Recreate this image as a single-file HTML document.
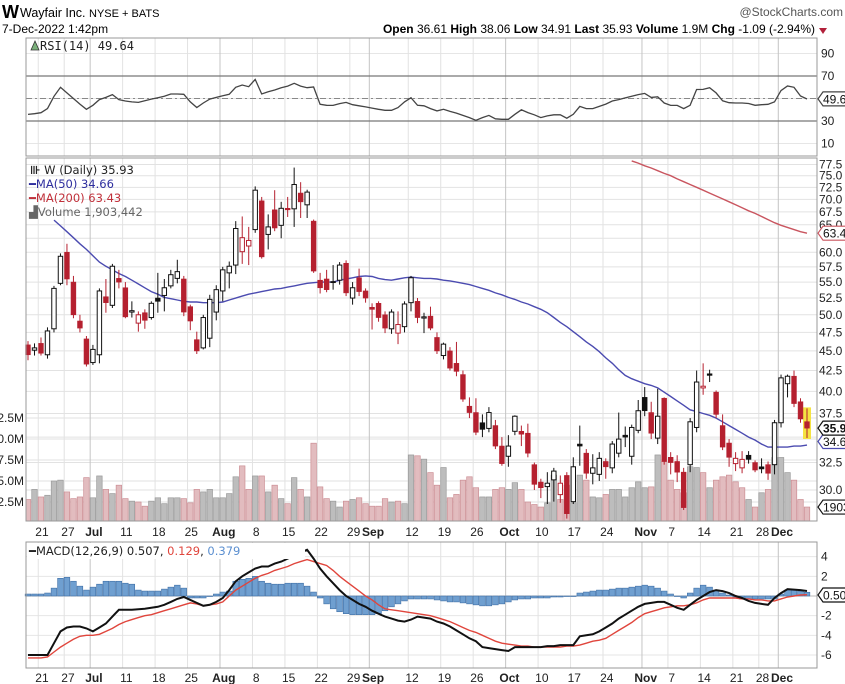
<!DOCTYPE html>
<html><head><meta charset="utf-8">
<style>
html,body{margin:0;padding:0;background:#fff;}
svg{display:block;font-family:"Liberation Sans",Arial,sans-serif;}
.lg{font-family:"DejaVu Sans","Liberation Sans",sans-serif;font-size:11px;}
</style></head>
<body>
<svg id="chart" width="845" height="684" viewBox="0 0 845 684" xmlns="http://www.w3.org/2000/svg">
  <rect x="0" y="0" width="845" height="684" fill="#fff"/>
  <g>
    <text x="2" y="18" font-size="18" font-weight="bold">W</text>
    <text x="20" y="17" font-size="12.5">Wayfair Inc. <tspan font-size="11">NYSE + BATS</tspan></text>
    <text x="843" y="16" font-size="12" fill="#555" text-anchor="end">@StockCharts.com</text>
    <text x="2" y="33" font-size="12">7-Dec-2022 1:42pm</text>
    <text x="815" y="33" font-size="12" text-anchor="end"><tspan font-weight="bold">Open</tspan> 36.61 <tspan font-weight="bold">High</tspan> 38.06 <tspan font-weight="bold">Low</tspan> 34.91 <tspan font-weight="bold">Last</tspan> 35.93 <tspan font-weight="bold">Volume</tspan> 1.9M <tspan font-weight="bold">Chg</tspan> -1.09 (-2.94%)</text>
    <path d="M819 28 L827 28 L823 34 Z" fill="#b2203a"/>
  </g>
  <g id="grid"></g>
  <g id="rsi"></g>
  <g id="main"></g>
  <g id="macd"></g>
  <g id="axes"></g>
</svg>
<script>
// ---------------- DATA ----------------
const weekLabels = ["21","27","Jul","11","18","25","Aug","8","15","22","29","Sep","12","19","26","Oct","10","17","24","Nov","7","14","21","28","Dec"];
const weekLabelIdx = [2,6,10,15,20,25,30,35,40,45,50,53,59,64,69,74,79,84,89,95,99,104,109,113,116];
const priceTicks = [30.0,32.5,37.5,40.0,42.5,45.0,47.5,50.0,52.5,55.0,57.5,60.0,65.0,67.5,70.0,72.5,75.0,77.5];
const priceGrid = [30,32.5,35,37.5,40,42.5,45,47.5,50,52.5,55,57.5,60,62.5,65,67.5,70,72.5,75,77.5];
const volTicks = [2.5,5.0,7.5,10.0,12.5];
const rsiTicks = [10,30,70,90];
const macdTicks = [-6,-4,-2,2,4];

const opens = [45.8,45.1,46,44.5,48,54.8,60,55,49.1,46.6, 43.5,44.5,52.7,51.4,55.6,54.1,50.4,48.8,50.3,49.6, 52.5,52.9,54.4,55.6,55.5,51.2,46.5,45.4,46.7,50.4, 53.6,56.5,57.8,60.1,61.1,64.1,69.7,63.2,67.9,64.9, 68.2,68.1,71.3,68.9,65.7,55.3,55.5,55.1,55.3,58.1, 52.5,55.7,53.6,51.1,51.7,50,48,47.4,48.3,51.8, 52,49.7,49.8,46.8,44.4,45,43.4,42,38.3,37.6, 36.5,35.9,36.2,34.1,33.1,35.6,35.6,35.4,32.3,30.7, 30.3,30.9,29.6,31.3,29,34.3,33.4,31.5,31.4,32.6, 32,33.4,35.2,33.1,35.7,39.3,37.6,34.9,39.2,33, 32.6,31.6,32.3,36,40.4,42.1,39.9,36.2,34.4,32.4, 32,33.2,32.5,32.1,32.3,32.3,36.5,40.9,41.8,38.8,36.61];
const highs = [46.3,46,46.8,48.2,54.4,59.8,61.5,56,50,47, 45.8,54,55.5,58,57,55,52,50.5,50.8,52, 56.5,55.5,57,58.7,56,51.5,47.6,50,53,54.5, 57.5,58.4,65.7,66.6,64.6,72.7,70.5,67,71.9,69.5, 70.5,76.8,73.6,72,66,56.5,57,57.8,58.3,58.6, 55,57.2,54,51.7,52,50.5,50.8,50.5,52,56, 52.5,50.3,51.2,47.5,46.1,45.5,46.2,42.5,39.3,39.2, 37.4,38.2,36.8,35,35.2,37.3,36.2,36.4,32.5,31, 31.6,32,31.3,31.6,33,36.2,33.8,33.3,33.5,32.9, 34.6,37.6,36.1,36.3,39,40.5,38.8,40.3,39.3,33.5, 33.2,32,37,42.5,43.4,42.6,40.1,37.4,34.8,33.5, 33.6,33.6,32.7,32.9,32.6,36.8,42,42,42.5,39.2,38.06];
const lows = [43.8,44.4,44.4,44,47.5,54.5,54.5,49.5,47.5,43, 43.2,43.4,50.3,51,54,49.5,49.6,47.6,48,49.3, 50.3,50.5,54,54.8,49.8,47.8,44.6,45.2,45.5,49.2, 52,54,56.3,58,57.8,63.5,58.9,60.5,63.8,62.5, 66.5,64.6,66.3,66.3,56.5,53.2,53.4,53.8,54.6,52.8, 51.5,52.8,51.8,47.9,49,47.4,47.3,45.9,47.5,50.5, 48.8,47.4,47.8,44.6,43.9,42.5,41.8,38.8,37,35.2, 35,35.5,33.8,32.2,32.1,35.2,34.1,33,30,29.3, 28.8,29,28.9,27.6,28.8,32.2,31,30.5,30.8,31, 31.5,33,34,32.3,35.4,37.2,34.8,34.3,32.3,31.4, 30.7,28.3,31.6,35.5,39.6,41.1,37,33.7,32.1,31.7, 31.5,32.4,31.6,31.5,30.9,31.4,36,39.3,38.2,36.5,34.91];
const closes = [44.5,45.4,44.7,47.7,54,59.3,55.5,50,48.1,43.3, 45.2,53.6,51.8,57.6,55,49.7,50.6,50,49.2,51.7, 52,54.1,56.2,56.7,50.4,49.1,45,49.6,52.3,53.8, 57,57.6,64.3,62.6,62.1,71.9,59.2,64.6,64.4,68.2, 67.9,73.1,69.5,71.5,56.8,54.1,53.8,54.9,57.8,53.3, 54.1,53.5,52.5,50.8,49.6,48.1,50.4,48.6,51.6,55.7, 49.6,49.7,48.1,45,45.9,42.8,42.4,39.1,37.6,35.5, 35.8,37.6,34.1,32.4,34.1,37.2,35.3,33.4,30.5,30.2, 30.6,31.7,30.6,28,32.1,34.1,31.5,32,32.9,32.1, 34.3,34.8,35,36,37.8,37.8,35.4,37.2,32.6,32.5, 31.6,28.5,36.6,41.1,40.6,41.9,37.4,34,33,32.9, 32.8,32.8,31.8,31.9,31.5,36.5,41.6,41.8,38.6,36.9,35.93];
const volumesM = [2.8,4,3.1,3.3,5,5.1,3.7,2.9,3.1,5.4, 3,5.6,4,3.5,4.5,2.9,2.6,2.5,2,2.6, 3,2.3,3,3,2.9,2.4,4,3.7,4,3, 3,3.5,5.5,6.8,4,5.6,5.6,3.7,4.5,2.9, 2.3,5.4,4,3.1,9.5,4.3,2.9,2.6,1.9,2.6, 2.8,3.0, 2.3,2,2,2.9,2.5,2.6,2.3,8.1,8,7.6, 6,4.5,6.6,3,3.4,5.1,5.5,4.2,3.1,3.1, 4,4.2,4,4.8,4,2.5,2.2,1.9,2.4,5.7, 2.8,4.5,2.4,5.7,5.1,3.1,3,3.4,4,4, 3.1,4.2,4.9,4.2,4.3,8.1,7.3,5.1,4,3.6, 6.7,6.6,6,4.2,5.1,5.5,5.7,4.9,4.2,2.8, 1.9,3.6,4,7.8,7.8,6,5.1,2.8,1.9];
const ma50Start = 4;
const ma50 = [65.9,64.8,63.7,62.6,61.5,60.5,59.4,58.3,57.6,57,56.4,55.9,55.3,54.7,54.1,53.5,53.1,52.6,52.4,52.2,52,51.9,51.9,51.8,51.8,51.8,51.9,52.2,52.5,52.8,53.1,53.3,53.5,53.7,53.9,54,54.2,54.4,54.6,54.8,54.9,55,55,55,55.3,55.5,55.7,55.9,56,55.9,55.6,55.4,55.3,55.5,55.7,55.8,55.7,55.6,55.6,55.5,55.3,55.2,55,54.8,54.6,54.3,54,53.7,53.3,53,52.6,52.3,51.9,51.6,51.2,50.8,50.3,49.6,48.9,48.3,47.6,46.9,46.2,45.6,44.9,44.1,43.4,42.6,41.9,41.5,41.2,40.9,40.7,40.4,39.9,39.4,38.9,38.4,37.9,37.7,37.5,37.3,37,36.6,36.2,35.8,35.4,35,34.7,34.3,34,34,34,34,34.1,34.1,34.2];
const ma200Start = 93;
const ma200 = [78.3,77.8,77.2,76.7,76.1,75.5,75,74.3,73.7,73.1,72.5,71.9,71.3,70.7,70.1,69.5,68.9,68.3,67.7,67.2,66.6,66,65.4,64.9,64.5,64.1,63.7,63.43];
const rsiVals = [35.9,36.5,37.4,41,52,60,55,50,45,40.4, 44,49,51,53.5,49,47.8,47,46.5,48,49.5, 50.7,52,54,54,53.7,47,42,46,49.5,51, 52.5,53.7,60,62,60.5,67,54,56,57.6,59.6, 61,63.5,61,59.6,60.2,44.8,44,43.9,45.5,46.5, 44.5,43.5,42.5,41.5,40.4,39.5,39.5,41.9,47,50.7, 44,43.5,41,39,40.4,38.5,37,35,33,30.6, 33,35,32,31.5,31.5,36,40,37.5,35.5,33, 34.5,35.5,35.5,32.5,36,43,41,41,43,45, 47.8,49,50.5,52,53.5,54.5,51,51.5,46,43.9, 43.9,41,44,58,58.1,59.6,55,48,46.3,46, 46,45.6,44,44.5,44.8,47,57,61.1,60,52.2,49.6];
const macdVals = [-6.0,-6.0,-6.0,-6.0,-4.8,-3.6,-3.2,-3.1,-3.1,-3.3, -3.6,-3.2,-2.8,-2.1,-1.4,-1.4,-1.4,-1.35,-1.3,-1.2, -1.1,-0.9,-0.6,-0.3,-0.1,-0.4,-0.7,-1.0,-0.9,-0.6, -0.2,0.6,1.5,2.0,2.4,2.8,3.0,3.0,3.3,3.5, 3.8,4.1,4.4,4.7,3.8,2.8,2.0,1.3,0.6,0.0, -0.4,-0.8,-1.1,-1.5,-1.8,-2.1,-2.3,-2.5,-2.6,-2.4, -2.1,-2.2,-2.3,-2.6,-2.8,-3.1,-3.5,-3.9,-4.3,-4.6, -5.2,-5.3,-5.4,-5.5,-5.6,-5.2,-5.2,-5.2,-5.2,-5.2, -5.1,-5.1,-5.0,-5.0,-5.0,-4.1,-4.0,-3.9,-3.6,-3.2, -2.8,-2.3,-1.9,-1.5,-1.1,-0.8,-0.7,-0.6,-0.6,-0.9, -1.2,-1.4,-0.9,-0.4,0.0,0.4,0.6,0.5,0.3,0.0, -0.2,-0.5,-0.7,-0.8,-0.9,-0.2,0.3,0.7,0.65,0.6,0.507];
const signalVals = [-6.3,-6.3,-6.3,-6.2,-5.7,-5.2,-4.8,-4.4,-4.1,-4.0, -4.0,-3.9,-3.6,-3.3,-2.9,-2.6,-2.4,-2.2,-2.0,-1.9, -1.7,-1.5,-1.3,-1.1,-0.9,-0.7,-0.8,-1.0,-0.9,-0.8, -0.6,0.0,0.6,1.0,1.4,1.8,2.1,2.3,2.6,2.8, 3.0,3.3,3.5,3.7,3.5,3.3,3.1,2.6,2.0,1.5, 1.0,0.5,0.0,-0.4,-0.9,-1.3,-1.4,-1.5,-1.6,-1.7, -1.8,-1.9,-2.0,-2.2,-2.4,-2.6,-2.9,-3.2,-3.5,-3.7, -4.0,-4.3,-4.6,-4.8,-4.9,-5.0,-5.1,-5.1,-5.2,-5.2, -5.2,-5.2,-5.2,-5.1,-5.1,-5.0,-4.8,-4.6,-4.5,-4.3, -3.9,-3.5,-3.1,-2.7,-2.2,-1.8,-1.6,-1.4,-1.2,-1.1, -1.0,-1.0,-0.9,-0.7,-0.4,-0.2,-0.2,-0.2,-0.2,-0.2, -0.3,-0.3,-0.4,-0.4,-0.5,-0.5,-0.3,-0.1,0.0,0.1,0.129];
const histVals = [0.2,0.2,0.2,0.3,0.8,1.8,1.9,1.5,1.0,0.6, 0.9,1.2,1.5,1.5,1.5,1.3,1.2,0.6,0.5,0.5, 0.5,0.7,0.9,1.1,0.8,-0.2,-0.2,-0.2,0.0,0.2, 0.4,0.5,1.5,1.7,1.8,2.0,1.5,1.3,1.2,1.2, 1.3,1.3,1.3,1.0,0.4,-0.2,-0.8,-1.3,-1.6,-1.8, -1.9,-1.9,-1.9,-1.9,-1.8,-1.5,-1.1,-0.8,-0.5,-0.3, -0.3,-0.3,-0.3,-0.4,-0.5,-0.6,-0.6,-0.7,-0.8,-0.9, -1.0,-1.0,-0.9,-0.8,-0.6,-0.4,-0.3,-0.3,-0.2,-0.2, -0.2,-0.1,-0.1,0.0,0.0,0.3,0.4,0.5,0.6,0.6, 0.7,0.8,0.8,0.9,1.0,1.1,1.0,0.8,0.5,0.2, 0.0,-0.2,0.3,0.8,1.1,0.9,0.6,0.3,0.1,-0.1, -0.3,-0.3,-0.3,-0.3,-0.3,-0.3,0.2,0.6,0.6,0.5,0.379];

// ---------------- SCALES ----------------
const L = 26, R = 817;
const N = closes.length;
const X0 = 28, DX = (807 - 28) / (N - 1);
function xs(i){ return X0 + i*DX; }
function py(p){ return 490 - (Math.log(p) - Math.log(30)) * 343; }
function vy(v){ return 523 - v * 8.4; }
function ry(v){ return 121 - (v - 30) * 1.125; }
function my(v){ return 596 - v * 9.83; }
const RSI_T = 38, RSI_B = 156, MAIN_T = 158, MAIN_B = 521, MACD_T = 542, MACD_B = 668;

const NS = "http://www.w3.org/2000/svg";
function mk(parent, tag, attrs){
  const e = document.createElementNS(NS, tag);
  for (const k in attrs) e.setAttribute(k, attrs[k]);
  parent.appendChild(e);
  return e;
}
const grid = document.getElementById('grid');
const rsiG = document.getElementById('rsi');
const mainG = document.getElementById('main');
const macdG = document.getElementById('macd');
const axes = document.getElementById('axes');

const defs = mk(document.getElementById('chart'), 'defs', {});
[['clipMain',MAIN_T,MAIN_B],['clipMacd',MACD_T,MACD_B],['clipRsi',RSI_T,RSI_B]].forEach(c=>{
  const cp = mk(defs,'clipPath',{id:c[0]});
  mk(cp,'rect',{x:L,y:c[1],width:R-L,height:c[2]-c[1]});
});

// ---------------- GRID ----------------
priceGrid.forEach(p=>{
  const l = mk(grid,'line',{x1:L,x2:R,y1:py(p),y2:py(p),stroke:'#e2e2e2','stroke-width':1});
  
  
});
volTicks.forEach(v=>{
  const l = mk(grid,'line',{x1:L,x2:R,y1:vy(v),y2:vy(v),stroke:'#e2e2e2','stroke-width':1});
  
  
});
[10,30,50,70,90].forEach(v=>{
  const l = mk(grid,'line',{x1:L,x2:R,y1:ry(v),y2:ry(v),stroke:'#e6e6e6','stroke-width':1});
  
  
});
[-6,-4,-2,0,2,4].forEach(v=>{
  const l = mk(grid,'line',{x1:L,x2:R,y1:my(v),y2:my(v),stroke:'#e6e6e6','stroke-width':1});
  
  
});
weekLabelIdx.forEach((idx,k)=>{
  const isMonth = /[A-Za-z]/.test(weekLabels[k]);
  const x = xs(idx) - DX/2 + 0.5;
  [[RSI_T,RSI_B],[MAIN_T,MAIN_B],[MACD_T,MACD_B]].forEach(r=>{
    const l = mk(grid,'line',{x1:x,x2:x,y1:r[0],y2:r[1],stroke:isMonth?'#c4c4c4':'#e2e2e2','stroke-width':1});
    
    
  });
});

// ---------------- RSI ----------------
[70,30].forEach(v=>{
  const l = mk(rsiG,'line',{x1:L,x2:R,y1:ry(v),y2:ry(v),stroke:'#777','stroke-width':1.2});
  
  
});
const mid = mk(rsiG,'line',{x1:L,x2:R,y1:ry(50),y2:ry(50),stroke:'#888','stroke-width':1,'stroke-dasharray':'6,3,2,3'});


const rsiPath = mk(rsiG,'path',{d:rsiVals.map((v,i)=>(i?'L':'M')+xs(i).toFixed(1)+' '+ry(v).toFixed(1)).join(''),fill:'none',stroke:'#444','stroke-width':1.3,'clip-path':'url(#clipRsi)'});



// ---------------- VOLUME ----------------
volumesM.forEach((v,i)=>{
  const down = i>0 ? closes[i] < closes[i-1] : true;
  const w = DX - 1;
  const r = mk(mainG,'rect',{x:xs(i)-w/2,y:vy(v),width:w,height:MAIN_B-vy(v),fill:down?'#e2bcbf':'#bdbdbd',stroke:down?'#cc8e94':'#9a9a9a','stroke-width':0.7,'clip-path':'url(#clipMain)'});
  
  
});

// ---------------- MOVING AVERAGES ----------------
const ma50p = mk(mainG,'path',{d:ma50.map((v,k)=>(k?'L':'M')+xs(k+ma50Start).toFixed(1)+' '+py(v).toFixed(1)).join(''),fill:'none',stroke:'#4b4bb0','stroke-width':1.4,'clip-path':'url(#clipMain)'});


const ma200p = mk(mainG,'path',{d:ma200.map((v,k)=>(k?'L':'M')+xs(k+ma200Start).toFixed(1)+' '+py(v).toFixed(1)).join(''),fill:'none',stroke:'#c9555f','stroke-width':1.4,'clip-path':'url(#clipMain)'});



// ---------------- CANDLES ----------------
const hl = mk(mainG,'rect',{x:xs(N-1)-4,y:py(highs[N-1])-1,width:8,height:py(lows[N-1])-py(highs[N-1])+2,fill:'#f5e342'});


opens.forEach((o,i)=>{
  const c = closes[i];
  const red = i>0 ? c < closes[i-1] : true;
  const col = red ? '#b5202f' : '#111';
  const x = xs(i);
  const g = mk(mainG,'g',{});
  
  
  mk(g,'line',{x1:x,x2:x,y1:py(highs[i]),y2:py(lows[i]),stroke:col,'stroke-width':1});
  const top = py(Math.max(o,c)), bot = py(Math.min(o,c));
  const h = Math.max(bot-top,1.2);
  if (c >= o) {
    mk(g,'rect',{x:x-2.2,y:top,width:4.4,height:h,fill:'#fff',stroke:col,'stroke-width':1});
  } else {
    mk(g,'rect',{x:x-2.4,y:top,width:4.8,height:h,fill:col,stroke:col,'stroke-width':0.6});
  }
});

// ---------------- MACD ----------------
const z = mk(macdG,'line',{x1:L,x2:R,y1:my(0),y2:my(0),stroke:'#bbb','stroke-width':1});


histVals.forEach((h,i)=>{
  const y0 = my(0), y1 = my(h);
  const w = DX - 0.8;
  const r = mk(macdG,'rect',{x:xs(i)-w/2,y:Math.min(y0,y1),width:w,height:Math.max(Math.abs(y1-y0),0.5),fill:'#6f9fd0',stroke:'#3f6fa6','stroke-width':0.6});
  
  
});
const sigp = mk(macdG,'path',{d:signalVals.map((v,i)=>(i?'L':'M')+xs(i).toFixed(1)+' '+my(v).toFixed(1)).join(''),fill:'none',stroke:'#e0453c','stroke-width':1.4,'clip-path':'url(#clipMacd)'});


const macdp = mk(macdG,'path',{d:macdVals.map((v,i)=>(i?'L':'M')+xs(i).toFixed(1)+' '+my(v).toFixed(1)).join(''),fill:'none',stroke:'#111','stroke-width':2,'clip-path':'url(#clipMacd)'});



// ---------------- AXES / FRAMES / LABELS ----------------
[[RSI_T,RSI_B,'rsi-panel-frame'],[MAIN_T,MAIN_B,'price-panel-frame'],[MACD_T,MACD_B,'macd-panel-frame']].forEach(p=>{
  const r = mk(axes,'rect',{x:L,y:p[0],width:R-L,height:p[1]-p[0],fill:'none',stroke:'#999','stroke-width':1});
  
  
});
priceTicks.forEach(p=>{
  const t = mk(axes,'text',{x:R+2,y:py(p)+4,'font-size':12,fill:'#222'});
  t.textContent = p.toFixed(1);
  
  
});
volTicks.forEach(v=>{
  const t = mk(axes,'text',{x:L-2,y:vy(v)+4,'font-size':12,fill:'#222','text-anchor':'end'});
  t.textContent = v.toFixed(1)+'M';
  
  
});
rsiTicks.forEach(v=>{
  const t = mk(axes,'text',{x:R+4,y:ry(v)+4,'font-size':12,fill:'#222'});
  t.textContent = v;
  
  
});
macdTicks.forEach(v=>{
  const t = mk(axes,'text',{x:R+4,y:my(v)+4,'font-size':12,fill:'#222'});
  t.textContent = v;
  
  
});
[532,678].forEach(yy=>{
  weekLabelIdx.forEach((idx,k)=>{
    const isMonth = /[A-Za-z]/.test(weekLabels[k]);
    const t = mk(axes,'text',{x:xs(idx)+1,y:yy+4,'font-size':12,'font-weight':isMonth?'bold':'normal','text-anchor':'middle',fill:'#222'});
    t.textContent = weekLabels[k];
    
    
  });
});
function tag(y,label,col,bold,name){
  const g = mk(axes,'g',{});
  
  
  mk(g,'path',{d:`M${R+1} ${y} L${R+6} ${y-7} L850 ${y-7} L850 ${y+7} L${R+6} ${y+7} Z`,fill:'#fff',stroke:col,'stroke-width':1.2});
  const t = mk(g,'text',{x:R+6,y:y+4.5,'font-size':12,'font-weight':bold?'bold':'normal',fill:'#111'});
  t.textContent = label;
}
tag(py(63.43),'63.43','#c9555f',false,'ma200-value-tag');
tag(py(34.66)+1,'34.66','#4b4bb0',false,'ma50-value-tag');
tag(py(35.93),'35.93','#111',true,'last-price-tag');
tag(vy(1.9),'1903442','#111',false,'volume-value-tag');
tag(ry(49.64),'49.64','#444',false,'rsi-value-tag');
tag(my(0.507)+4,'0.507','#111',false,'macd-value-tag');
</script>
<svg style="position:absolute;left:0;top:0" width="845" height="684">
  <g class="lg">
    <path d="M31 50 L35 41 L39 50 Z" fill="#7bb07b" stroke="#333" stroke-width="0.8"/>
    <text x="40" y="50" font-family="DejaVu Sans Mono, monospace" font-size="12" fill="#222">RSI(14) 49.64</text>
  </g>
  <g class="lg">
    <text x="30" y="174" font-family="DejaVu Sans" font-size="11.5" fill="#222"><tspan font-weight="bold">⊪</tspan> W (Daily) 35.93</text>
    <text x="29" y="188" font-family="DejaVu Sans" font-size="11.5" fill="#2e2e9e">━MA(50) 34.66</text>
    <text x="29" y="202" font-family="DejaVu Sans" font-size="11.5" fill="#c0303a">━MA(200) 63.43</text>
    <text x="29" y="216" font-family="DejaVu Sans" font-size="11.5" fill="#666">▟Volume 1,903,442</text>
  </g>
  <g>
    <rect x="27" y="543" width="278" height="16" fill="#fff"/>
    <text x="29" y="555" font-family="DejaVu Sans" font-size="11.5" fill="#222"><tspan font-weight="bold">━</tspan>MACD(12,26,9) 0.507, <tspan fill="#e0453c">0.129</tspan>, <tspan fill="#5b8fd0">0.379</tspan></text>
  </g>
</svg>
<style>body{position:relative;width:845px;height:684px;overflow:hidden;}</style>
</body></html>
